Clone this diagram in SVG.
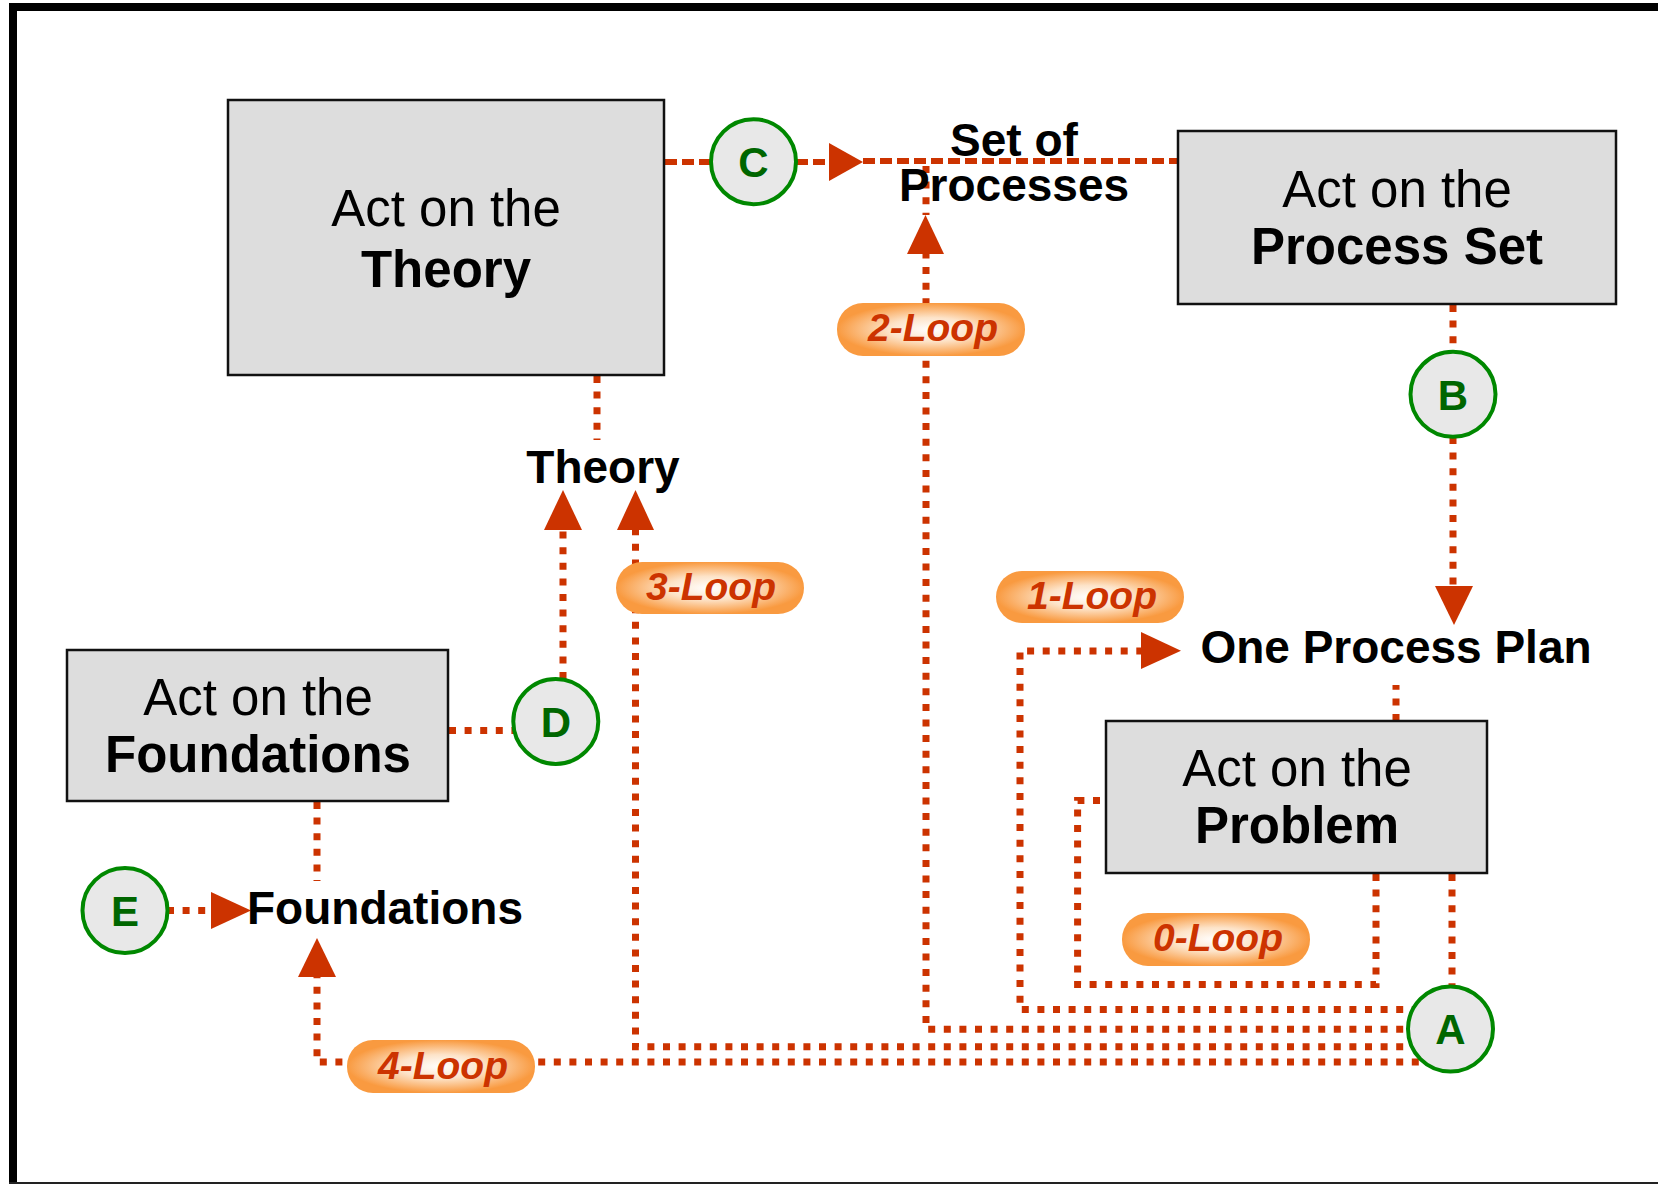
<svg xmlns="http://www.w3.org/2000/svg" width="1658" height="1184" viewBox="0 0 1658 1184">
<style>
.box{fill:#dddddd;stroke:#111;stroke-width:2.5}
.t{font-family:"Liberation Sans",Arial,sans-serif;text-anchor:middle;fill:#000}
.n{font-size:51px}
.b{font-size:51px;font-weight:bold}
.lbl{font-size:46px;font-weight:bold}
.dot{fill:none;stroke:#cc3300;stroke-width:7;stroke-dasharray:7 8.6}
.dash{fill:none;stroke:#cc3300;stroke-width:6;stroke-dasharray:12 5}
.arr{fill:#cc3300}
.circ{fill:#e8e8e8;stroke:#008800;stroke-width:4}
.let{font-family:"Liberation Sans",Arial,sans-serif;font-size:42px;font-weight:bold;fill:#006600;text-anchor:middle}
.pill{fill:url(#pg)}
.pt{font-family:"Liberation Sans",Arial,sans-serif;font-size:39px;font-weight:bold;font-style:italic;fill:#cc3300;text-anchor:middle}
</style>
<defs>
<radialGradient id="pg" cx="50%" cy="50%" r="50%">
<stop offset="0" stop-color="#ffffff"/>
<stop offset="0.45" stop-color="#fde3c8"/>
<stop offset="1" stop-color="#f99a40"/>
</radialGradient>
</defs>
<rect x="0" y="0" width="1658" height="1184" fill="#ffffff"/>
<g id="border" stroke="#000">
<line x1="9" y1="7" x2="1658" y2="7" stroke-width="8"/>
<line x1="13" y1="3" x2="13" y2="1184" stroke-width="8"/>
<line x1="9" y1="1183" x2="1658" y2="1183" stroke-width="2" stroke="#222"/>
</g>
<g id="connectors">
<path class="dot" d="M597,376 V440"/>
<path class="dot" d="M317,802 V881"/>
<path class="dot" d="M449,730.5 H514"/>
<path class="dot" d="M563,679 V530"/>
<polygon class="arr" points="544,530 582,530 563,490"/>
<path class="dot" d="M167,910.5 H212"/>
<polygon class="arr" points="211,892 211,929 251,910.5"/>
<path class="dot" d="M1450,1062 H317 V977"/>
<polygon class="arr" points="298,977 336,977 317,938"/>
<path class="dot" d="M1450,1046.7 H635.5 V530"/>
<polygon class="arr" points="617,530 654,530 635.5,490"/>
<path class="dot" d="M1450,1029.3 H926 V254"/>
<path class="dot" d="M926,166 V215"/>
<polygon class="arr" points="907,254 944,254 925.5,215"/>
<path class="dot" d="M1450,1009.5 H1020 V651 H1141"/>
<polygon class="arr" points="1141,632 1141,669 1181,650.7"/>
<path class="dot" d="M1376,874 V984.6 H1077.6 V800.6 H1106"/>
<path class="dot" d="M1452,874 V986"/>
<path class="dot" d="M1396,721 V685"/>
<path class="dot" d="M1453,305 V352"/>
<path class="dot" d="M1453,437 V586"/>
<polygon class="arr" points="1435,586 1473,586 1454,625"/>
<path class="dash" d="M665,162 H711"/>
<path class="dash" d="M796,162 H829"/>
<polygon class="arr" points="829,143 829,181 863,162"/>
<path class="dash" d="M863,161 H1178"/>
</g>
<g id="node-theory">
<rect class="box" x="228" y="100" width="436" height="275"/>
<text class="t n" x="446" y="226">Act on the</text>
<text class="t b" x="446" y="287">Theory</text>
</g>
<g id="node-process-set">
<rect class="box" x="1178" y="131" width="438" height="173"/>
<text class="t n" x="1397" y="207">Act on the</text>
<text class="t b" x="1397" y="264">Process Set</text>
</g>
<g id="node-problem">
<rect class="box" x="1106" y="721" width="381" height="152"/>
<text class="t n" x="1297" y="786">Act on the</text>
<text class="t b" x="1297" y="843">Problem</text>
</g>
<g id="node-foundations">
<rect class="box" x="67" y="650" width="381" height="151"/>
<text class="t n" x="258" y="715">Act on the</text>
<text class="t b" x="258" y="772">Foundations</text>
</g>
<g id="label-set-of-processes">
<text class="t lbl" x="1014" y="156">Set of</text>
<text class="t lbl" x="1014" y="201">Processes</text>
</g>
<g id="label-theory"><text class="t lbl" x="603" y="483">Theory</text></g>
<g id="label-one-process-plan"><text class="t lbl" x="1396" y="663">One Process Plan</text></g>
<g id="label-foundations"><text class="t lbl" x="385" y="924">Foundations</text></g>
<g id="circle-a"><circle class="circ" cx="1450.5" cy="1029" r="42.5"/><text class="let" x="1450.5" y="1044">A</text></g>
<g id="circle-b"><circle class="circ" cx="1453" cy="394.3" r="42.5"/><text class="let" x="1453" y="409.5">B</text></g>
<g id="circle-c"><circle class="circ" cx="753.5" cy="161.7" r="42.5"/><text class="let" x="753.5" y="177">C</text></g>
<g id="circle-d"><circle class="circ" cx="555.8" cy="721.4" r="42.5"/><text class="let" x="555.8" y="736.5">D</text></g>
<g id="circle-e"><circle class="circ" cx="125" cy="910.5" r="42.5"/><text class="let" x="125" y="925.5">E</text></g>
<g id="loop-2"><rect class="pill" x="837" y="303" width="188" height="53" rx="26"/><text class="pt" x="933" y="341">2-Loop</text></g>
<g id="loop-3"><rect class="pill" x="616" y="562" width="188" height="52" rx="26"/><text class="pt" x="711" y="600">3-Loop</text></g>
<g id="loop-1"><rect class="pill" x="996" y="571" width="188" height="52" rx="26"/><text class="pt" x="1092" y="609">1-Loop</text></g>
<g id="loop-0"><rect class="pill" x="1122" y="913" width="188" height="53" rx="26"/><text class="pt" x="1218" y="951">0-Loop</text></g>
<g id="loop-4"><rect class="pill" x="347" y="1040" width="188" height="53" rx="26"/><text class="pt" x="443" y="1079">4-Loop</text></g>
</svg>
